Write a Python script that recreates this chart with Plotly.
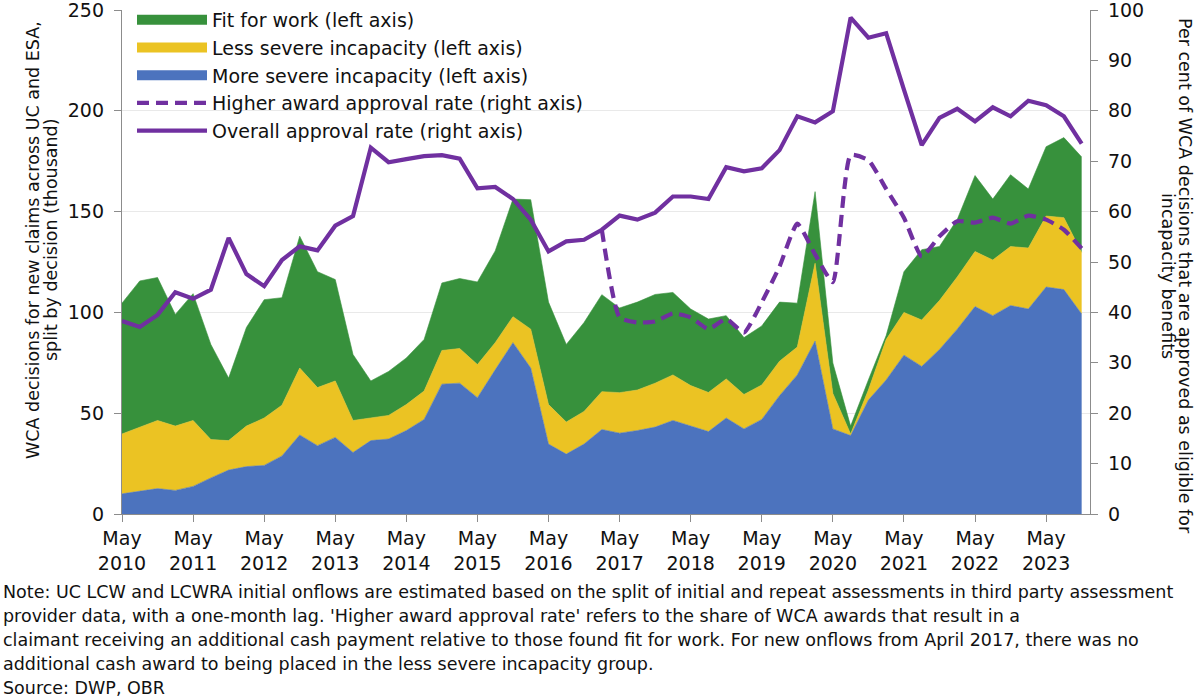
import plotly.graph_objects as go

# ---------------- data ----------------
quarters = [
    "May 2010", "Aug 2010", "Nov 2010",
    "Feb 2011", "May 2011", "Aug 2011", "Nov 2011",
    "Feb 2012", "May 2012", "Aug 2012", "Nov 2012",
    "Feb 2013", "May 2013", "Aug 2013", "Nov 2013",
    "Feb 2014", "May 2014", "Aug 2014", "Nov 2014",
    "Feb 2015", "May 2015", "Aug 2015", "Nov 2015",
    "Feb 2016", "May 2016", "Aug 2016", "Nov 2016",
    "Feb 2017", "May 2017", "Aug 2017", "Nov 2017",
    "Feb 2018", "May 2018", "Aug 2018", "Nov 2018",
    "Feb 2019", "May 2019", "Aug 2019", "Nov 2019",
    "Feb 2020", "May 2020", "Aug 2020", "Nov 2020",
    "Feb 2021", "May 2021", "Aug 2021", "Nov 2021",
    "Feb 2022", "May 2022", "Aug 2022", "Nov 2022",
    "Feb 2023", "May 2023", "Aug 2023", "Nov 2023",
]

# thousand decisions (left axis), stacked
more_severe = [10.0, 11.2, 12.6, 11.7, 13.7, 17.9, 21.8, 23.5, 24.1, 28.8,
               39.2, 33.9, 38.0, 30.5, 36.4, 37.2, 41.4, 46.9, 64.4, 64.9,
               57.7, 71.5, 85.0, 72.4, 34.7, 29.7, 34.7, 41.9, 40.1, 41.4,
               43.1, 46.4, 43.6, 40.9, 47.6, 42.2, 46.9, 58.7, 69.0, 85.8,
               42.2, 38.9, 56.5, 66.5, 78.8, 73.2, 81.6, 91.7, 102.9, 98.4,
               103.4, 101.7, 112.6, 111.3, 99.2]
less_severe = [29.7, 31.9, 33.8, 31.9, 32.7, 19.0, 14.6, 20.1, 23.5, 25.2,
               33.2, 28.8, 28.0, 15.9, 11.2, 11.7, 12.9, 14.1, 16.7, 17.2,
               16.4, 13.5, 12.9, 19.3, 19.6, 15.9, 16.2, 18.8, 20.1, 20.1,
               21.8, 22.6, 20.1, 19.4, 19.4, 17.1, 17.1, 17.1, 13.8, 38.6,
               17.6, 0.8, 5.0, 20.0, 21.2, 23.0, 24.3, 25.9, 27.3, 27.6,
               29.3, 30.2, 35.2, 35.7, 30.5]
fit_for_work = [64.9, 72.5, 70.9, 55.4, 62.9, 47.2, 31.0, 48.9, 58.7, 53.3,
                65.4, 57.5, 50.3, 32.7, 18.4, 21.8, 23.1, 25.6, 33.5, 34.7,
                41.0, 45.5, 58.3, 64.2, 50.8, 38.5, 44.1, 48.1, 42.0, 43.6,
                44.0, 40.9, 38.0, 36.4, 31.4, 28.2, 29.3, 29.3, 21.8, 35.5,
                15.1, 3.9, 5.0, 2.0, 20.2, 34.9, 26.8, 28.5, 37.7, 30.2,
                35.6, 29.3, 34.4, 39.7, 47.4]

# per cent (right axis)
overall_rate = [38.3, 37.1, 39.5, 44.0, 42.7, 44.5, 54.8, 47.6, 45.2, 50.4,
                53.1, 52.3, 57.2, 59.1, 72.7, 69.8, 70.4, 71.0, 71.2, 70.5,
                64.6, 64.9, 62.5, 58.4, 52.1, 54.1, 54.4, 56.4, 59.2, 58.4,
                59.8, 63.0, 63.0, 62.5, 68.8, 68.0, 68.6, 72.2, 78.9, 77.7,
                79.9, 98.5, 94.5, 95.4, 84.2, 73.2, 78.6, 80.4, 77.9, 80.7,
                78.9, 82.0, 81.1, 78.9, 73.5]
# before Feb 2017 the higher award rate coincides with the overall rate (hidden)
higher_rate = [None] * 27 + [
                56.4, 39.0, 38.0, 38.2, 39.8, 39.0, 36.7, 38.7, 36.0, 42.0,
                49.1, 57.6, 51.5, 46.0, 71.2, 70.2, 64.5, 58.8, 51.1, 55.1,
                58.1, 57.8, 58.8, 57.6, 59.2, 58.4, 56.4, 52.7]

tick_quarters = ["May 2010", "May 2011", "May 2012", "May 2013", "May 2014",
                 "May 2015", "May 2016", "May 2017", "May 2018", "May 2019",
                 "May 2020", "May 2021", "May 2022", "May 2023"]
tick_labels = [q.replace(" ", "<br>") for q in tick_quarters]

note_lines = [
    "Note: UC LCW and LCWRA initial onflows are estimated based on the split of initial and repeat assessments in third party assessment",
    "provider data, with a one-month lag. 'Higher award approval rate' refers to the share of WCA awards that result in a",
    "claimant receiving an additional cash payment relative to those found fit for work. For new onflows from April 2017, there was no",
    "additional cash award to being placed in the less severe incapacity group.",
    "Source: DWP, OBR",
]

# ---------------- layout helpers ----------------
W, H = 1200, 700
L, R, T, B = 122, 1090, 10, 514


def px(x):
    return (x - L) / (R - L)


def py(y):
    return (B - y) / (B - T)


FONT = "DejaVu Sans"
GREEN = "#37913C"
YELLOW = "#EBC323"
BLUE = "#4C73BE"
PURPLE = "#7030A0"
AXIS = "#8C8C8C"
GRID = "#E9E9E9"
TXT = "#111111"

fig = go.Figure()

# stacked areas (left axis)
for name, vals, col in [
    ("More severe incapacity (left axis)", more_severe, BLUE),
    ("Less severe incapacity (left axis)", less_severe, YELLOW),
    ("Fit for work (left axis)", fit_for_work, GREEN),
]:
    fig.add_trace(go.Scatter(
        x=quarters, y=vals, name=name, stackgroup="wca", mode="lines",
        line=dict(width=0.6, color=col), fillcolor=col,
        showlegend=False, yaxis="y",
    ))

# legend swatches for the areas
for rank, (name, col) in enumerate([
    ("Fit for work (left axis)", GREEN),
    ("Less severe incapacity (left axis)", YELLOW),
    ("More severe incapacity (left axis)", BLUE),
], start=1):
    fig.add_trace(go.Scatter(
        x=[quarters[0]], y=[None], name=name, mode="lines",
        line=dict(width=13, color=col), legendrank=rank, yaxis="y",
        hoverinfo="skip",
    ))

# approval rate lines (right axis)
fig.add_trace(go.Scatter(
    x=quarters, y=higher_rate, name="Higher award approval rate (right axis)",
    mode="lines", yaxis="y2", legendrank=4,
    line=dict(color=PURPLE, width=4.2, dash="12px,7px", shape="spline", smoothing=0.5),
))
fig.add_trace(go.Scatter(
    x=quarters, y=overall_rate, name="Overall approval rate (right axis)",
    mode="lines", yaxis="y2", legendrank=5,
    line=dict(color=PURPLE, width=4.2),
))

annotations = []
TSIZE = 17.5
# left axis title (two lines)
annotations.append(dict(text="WCA decisions for new claims across UC and ESA,",
                        x=px(33), y=py(240), xref="paper", yref="paper",
                        textangle=-90, showarrow=False, xanchor="center", yanchor="middle",
                        font=dict(family=FONT, size=TSIZE, color=TXT)))
annotations.append(dict(text="split by decision (thousand)",
                        x=px(51), y=py(240), xref="paper", yref="paper",
                        textangle=-90, showarrow=False, xanchor="center", yanchor="middle",
                        font=dict(family=FONT, size=TSIZE, color=TXT)))
# right axis title (two lines, reading downwards)
annotations.append(dict(text="Per cent of WCA decisions that are approved as eligible for",
                        x=px(1185), y=py(276), xref="paper", yref="paper",
                        textangle=90, showarrow=False, xanchor="center", yanchor="middle",
                        font=dict(family=FONT, size=TSIZE, color=TXT)))
annotations.append(dict(text="incapacity benefits",
                        x=px(1168), y=py(276), xref="paper", yref="paper",
                        textangle=90, showarrow=False, xanchor="center", yanchor="middle",
                        font=dict(family=FONT, size=TSIZE, color=TXT)))
# note lines
for k, line in enumerate(note_lines):
    annotations.append(dict(text=line, x=px(1), y=py(592 + 24 * k), xref="paper", yref="paper",
                            showarrow=False, xanchor="left", yanchor="middle", align="left",
                            font=dict(family=FONT, size=17.5, color=TXT)))

axis_common = dict(showline=True, linecolor=AXIS, linewidth=1.3,
                   ticks="outside", ticklen=7, tickcolor=AXIS, tickwidth=1.3,
                   zeroline=False, automargin=False, ticklabeloverflow="allow",
                   tickfont=dict(family=FONT, size=19, color=TXT))

fig.update_layout(
    width=W, height=H,
    margin=dict(l=L, r=W - R, t=T, b=H - B, pad=0, autoexpand=False),
    paper_bgcolor="white", plot_bgcolor="white",
    font=dict(family=FONT, size=19, color=TXT),
    showlegend=True,
    legend=dict(x=px(132), y=1.018, xanchor="left", yanchor="top",
                bgcolor="rgba(0,0,0,0)", borderwidth=0, itemwidth=70,
                font=dict(family=FONT, size=19, color=TXT),
                traceorder="normal", tracegroupgap=0),
    xaxis=dict(type="category", categoryorder="array", categoryarray=quarters,
               range=[0, 54.47], tickmode="array", tickvals=tick_quarters, ticktext=tick_labels,
               showgrid=False, **axis_common),
    yaxis=dict(range=[0, 250], tickmode="array", tickvals=[0, 50, 100, 150, 200, 250],
               showgrid=True, gridcolor=GRID, gridwidth=1, ticklabelstandoff=6,
               **axis_common),
    yaxis2=dict(range=[0, 100], overlaying="y", side="right",
                tickmode="array", tickvals=list(range(0, 101, 10)),
                showgrid=False, ticklabelstandoff=6, **axis_common),
    annotations=annotations,
    hovermode="x",
)

fig.write_html(
    "out.html",
    config={"displayModeBar": False},
    post_script="document.body.style.margin='0';document.body.style.overflow='hidden';",
)
